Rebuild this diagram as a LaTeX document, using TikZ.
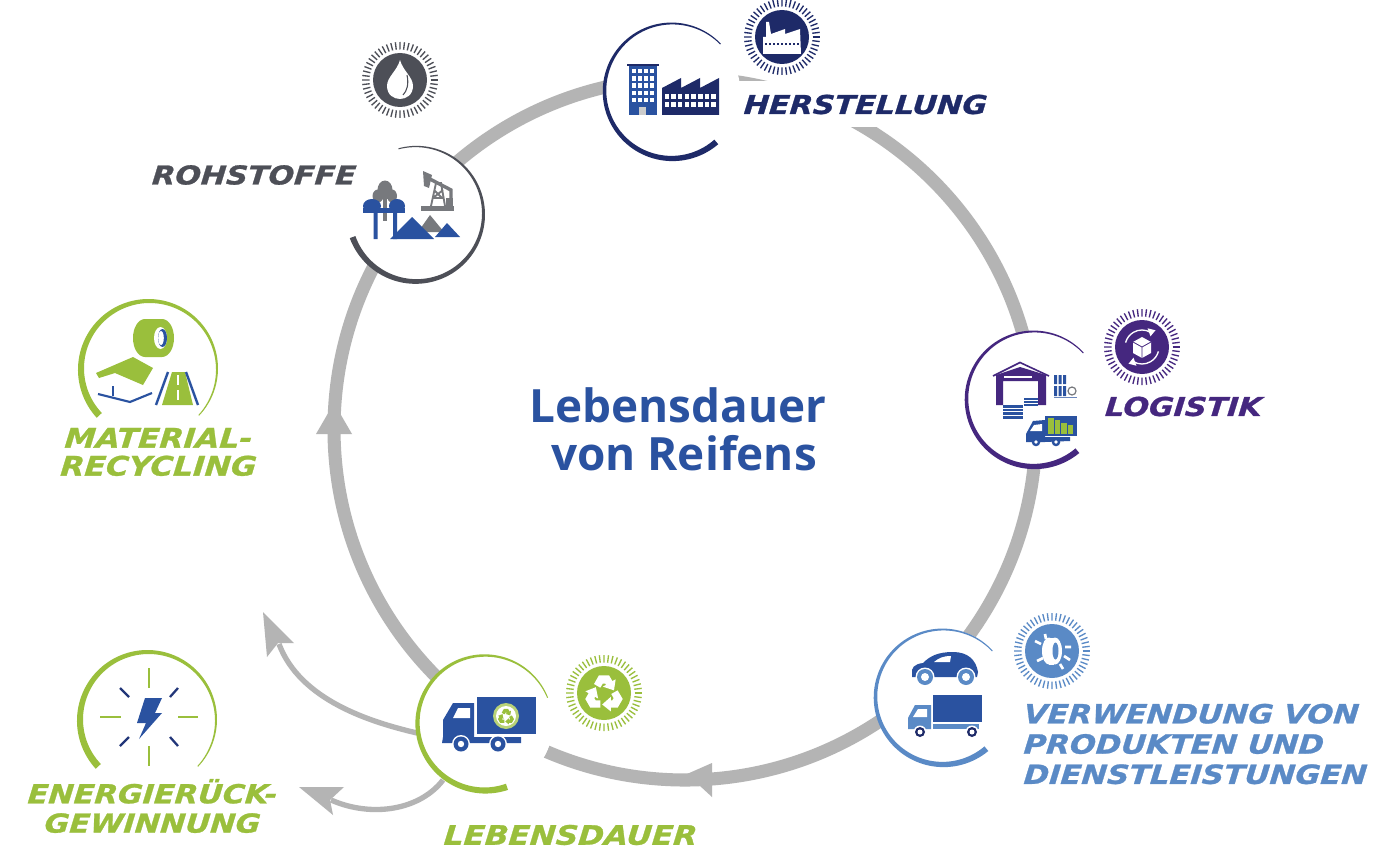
\documentclass[tikz,border=0pt]{standalone}
\usepackage{fontspec}
\usetikzlibrary{shapes.geometric}
\newfontfamily\labf[FakeStretch=1.16,FakeBold=1,FakeSlant=0.08]{DejaVu Sans}
\newfontfamily\titlef{Open Sans}
\definecolor{ringg}{HTML}{B4B4B4}
\definecolor{cgreen}{HTML}{9ABF3C}
\definecolor{cgray}{HTML}{4D4F57}
\definecolor{cicon}{HTML}{77797D}
\definecolor{cnavy}{HTML}{1E2A68}
\definecolor{cpurple}{HTML}{45277F}
\definecolor{cmid}{HTML}{5A8AC6}
\definecolor{cdeep}{HTML}{2A52A0}
\tikzset{
  disc/.style={circle,fill=white,draw=none,inner sep=0pt,minimum size=102pt},
  lab/.style={inner sep=0pt,font=\labf\bfseries\itshape\fontsize{19.5pt}{22.5pt}\selectfont},
  branch/.style={draw=ringg,line width=4pt},
  headfill/.style={fill=ringg,draw=none},
}
% tapered arc: cx cy r t1 t2 w1 w2 colour
\newcommand{\taper}[8]{%
  \fill[#8] plot[domain=#4:#5,samples=90] ({#1+(#3+(#6+(#7-#6)*(\x-(#4))/((#5)-(#4)))/2)*cos(\x)},{#2+(#3+(#6+(#7-#6)*(\x-(#4))/((#5)-(#4)))/2)*sin(\x)})
   -- plot[domain=#5:#4,samples=90] ({#1+(#3-(#6+(#7-#6)*(\x-(#4))/((#5)-(#4)))/2)*cos(\x)},{#2+(#3-(#6+(#7-#6)*(\x-(#4))/((#5)-(#4)))/2)*sin(\x)}) -- cycle;}
\newcommand{\sunbadge}[4]{%
  \coordinate (#1) at (#2,#3);
  \fill[#4] (#1) circle (27);
  \foreach \a in {0,6.92,...,353}
    \draw[#4,line width=1pt] ({#2+30.5*cos(\a)},{#3+30.5*sin(\a)}) -- ({#2+38*cos(\a)},{#3+38*sin(\a)});}
\newcommand{\recyc}[2]{%
  \foreach \r in {0,120,240}
   \fill[#2,rotate=\r,scale=#1] (-9.5,-9.5) -- (-4.8,-17.8) -- (4.8,-17.8) -- (8,-12.3) -- (11.1,-14) -- (9.5,-3.5) -- (-1,-7) -- (2,-8.8) -- (1.2,-9.9) -- (-1.2,-9.9) -- (-3.5,-6) -- cycle;}
\begin{document}
\begin{tikzpicture}[x=0.75pt,y=-0.75pt,line join=miter]
\useasboundingbox (0,0) rectangle (1386,856);
\fill[white] (0,0) rectangle (1386,856);
% main ring
\coordinate (hub) at (685,429);
\draw[ringg,line width=9.8pt] (hub) circle (351);
\fill[white] (737,81) rectangle (995,127);
% named discs
\node[disc] (roh) at (416,214) {};
\node[disc] (her) at (672,91) {};
\node[disc] (log) at (1034,399) {};
\node[disc] (ver) at (943,697) {};
\node[disc] (leb) at (485,723) {};
\coordinate (mat) at (149,369);
\coordinate (ene) at (148,720);
% branches
\coordinate (tipA) at (263,612);
\coordinate (backA) at (279,644);
\coordinate (tipB) at (299,787);
\coordinate (backB) at (331,800);
\draw[branch] (leb.center) ++(-68,10) .. controls (370,722) and (300,700) .. (backA);
\draw[branch] (leb.center) ++(-42,57) .. controls (420,810) and (372,818) .. (backB);
\fill[headfill] (tipA) -- (294,643) -- (278,643) -- (267,657) -- cycle;
\fill[headfill] (tipB) -- (344,787) -- (330,800) -- (333,815) -- cycle;
\fill[headfill] (687,774) -- (712,763) -- (712,797) -- cycle;
\fill[headfill] (334,403) -- (352,434) -- (316,434) -- cycle;
\node[disc] at (leb) {};
% arcs
\taper{416}{214}{67.5}{-105}{160}{1}{6}{cgray}
\taper{672}{91}{67.5}{-44}{-311}{1}{6}{cnavy}
\taper{1034}{399}{67.5}{-43}{-310}{1}{6}{cpurple}
\taper{943}{697}{67.5}{-43}{-310}{1}{6}{cmid}
\taper{485}{723}{67.5}{-22}{-289}{1}{6.5}{cgreen}
\taper{149}{369}{68}{43}{-223}{1}{7}{cgreen}
\taper{148}{720}{68}{43}{-223}{1}{7}{cgreen}
% ---- Rohstoffe icon
\fill[cicon] (385,190) ellipse (7.5 and 9.5) (378,196) ellipse (5.5 and 6.5) (392,196) ellipse (5 and 6.5);
\fill[cicon] (383,198) rectangle (387,221);
\fill[cicon] (430,215) -- (444,232) -- (418,232) -- cycle;
\fill[cdeep] (372,206) ellipse (9 and 7) (397,206) ellipse (8 and 7);
\fill[cdeep] (363,208) rectangle (405,213);
\fill[cdeep] (373.5,210) rectangle (377.5,239) (393,210) rectangle (397,239);
\fill[cdeep] (412,217) -- (434,239) -- (390,239) -- cycle;
\fill[cdeep] (447,223) -- (460,237) -- (435,237) -- cycle;
\fill[cicon] (421,206) rectangle (454,211);
\draw[cicon,line width=1.4pt] (431,206) -- (436,183) -- (441,183) -- (445,206) (433,198) -- (443,198) (434,190) -- (442,198) (443,190) -- (433,198);
\draw[cicon,line width=2.6pt] (426,177) -- (451,190) -- (451,198);
\fill[cicon] (423,171) -- (432,175) -- (429,188) -- (424,186) -- cycle;
\fill[cicon] (446,198) rectangle (453,206);
\sunbadge{bRoh}{400}{80}{cgray}
\begin{scope}[shift={(400,80)}]
 \fill[white] (0,-20) .. controls (3,-9) and (13,-3) .. (13,6) .. controls (13,15) and (6,19) .. (0,19) .. controls (-6,19) and (-13,15) .. (-13,6) .. controls (-13,-3) and (-3,-9) .. (0,-20) -- cycle;
 \draw[cgray,line width=.8pt] (7,-5) .. controls (9,4) and (7,11) .. (3,15);
\end{scope}
% ---- Herstellung icon
\fill[cdeep] (629,66) rectangle (657,115);
\fill[cnavy] (627,64.5) rectangle (659,66.5);
\foreach \i in {0,1,2,3}
 \foreach \j in {0,1,2,3,4}
  \fill[white] ({631.5+\i*6.2},{69+\j*7.2}) rectangle ({635.5+\i*6.2},{73.5+\j*7.2});
\fill[white!80!black] (639,107) rectangle (646,115);
\fill[cnavy] (662,115) -- (662,88) -- (681,78) -- (681,88) -- (700,78) -- (700,88) -- (719,78) -- (719,115) -- cycle;
\foreach \i in {0,...,7}
 \foreach \j in {0,1}
  \fill[white] ({664.5+\i*6.7},{94+\j*8}) rectangle ({669+\i*6.7},{99.5+\j*8});
\sunbadge{bHer}{782}{37}{cnavy}
\begin{scope}[shift={(782,37)}]
 \fill[white] (-19,17) -- (-19,0) -- (-16,0) -- (-16,-15) -- (-13,-15) -- (-11,-3) -- (3,-8) -- (3,-3) -- (18,-8) -- (19,17) -- cycle;
 \foreach \i in {-16,-12,...,16} \fill[cnavy] (\i-1,6) rectangle (\i+1,8);
\end{scope}
% ---- Logistik icon
\fill[cpurple] (996,375) -- (1020,367) -- (1046,375) -- (1046,405) -- (1038,405) -- (1038,381) -- (1003,381) -- (1003,405) -- (996,405) -- cycle;
\draw[cpurple,line width=1.2pt] (993,376) -- (1020,362.5) -- (1049,376);
\fill[white] (1004,375.5) rectangle (1032,378);
\foreach \j in {0,1,2,3} \fill[cdeep] (1003,{405+\j*3.6}) rectangle (1023,{407.8+\j*3.6});
\foreach \j in {0,1,2} \fill[cdeep] (1024,{398+\j*2.9}) rectangle (1038,{400.2+\j*2.9});
\foreach \i in {0,1,2} \fill[cdeep] ({1054+\i*4.6},375) rectangle ({1057+\i*4.6},384) ({1054+\i*4.6},386) rectangle ({1057+\i*4.6},396);
\draw[cdeep!70,line width=.6pt] (1054,397.5) -- (1077,397.5);
\draw[cicon,line width=.9pt] (1072,391) circle (4);
\fill[cdeep] (1045,416) rectangle (1077,436);
\fill[cdeep] (1026,442) -- (1026,434) -- (1033,421) -- (1045,420) -- (1045,437) -- (1070,437) -- (1070,441) -- (1045,442) -- cycle;
\fill[white] (1034,425) -- (1042,424) -- (1042,431) -- (1030,431) -- cycle;
\foreach \i/\h in {0/17,1/15,2/12,3/10} \fill[cgreen] ({1048+\i*6.6},{435-\h}) rectangle ({1053.5+\i*6.6},434);
\foreach \x in {1036,1056} {\fill[cdeep] (\x,442) circle (4.3); \fill[white] (\x,442) circle (1.9);}
\sunbadge{bLog}{1142}{347}{cpurple}
\begin{scope}[shift={(1142,347)}]
 \draw[white,line width=1pt] (-60:17) arc[start angle=-60,end angle=-165,radius=17] (120:17) arc[start angle=120,end angle=15,radius=17];
 \fill[white] (-60:17) ++(-3,-4) -- ++(8,2) -- ++(-5,6) -- cycle (120:17) ++(3,4) -- ++(-8,-2) -- ++(5,-6) -- cycle;
 \fill[white] (0,-10) -- (9,-5) -- (9,6) -- (0,11) -- (-9,6) -- (-9,-5) -- cycle;
 \draw[cpurple,line width=.6pt] (-9,-5) -- (0,0) -- (9,-5) (0,0) -- (0,11);
\end{scope}
% ---- Verwendung icon
\fill[cdeep] (912,674) .. controls (911,668) and (914,664) .. (923,663) .. controls (930,656) and (938,652) .. (953,652) .. controls (968,652) and (976,660) .. (978,672) -- (977,677) -- (912,677) -- cycle;
\fill[white] (934,662) .. controls (939,658) and (943,656) .. (951,656) -- (950,662) -- cycle;
\foreach \x in {925,966} {\fill[white] (\x,677) circle (9.5); \fill[cmid] (\x,677) circle (8); \fill[white] (\x,677) circle (4);}
\fill[cdeep] (933,695) rectangle (982,722);
\fill[cmid] (908,729) -- (908,718) -- (915,705) -- (931,705) -- (931,729) -- cycle;
\fill[white] (913,717) -- (918,709) -- (927,709) -- (927,717) -- cycle;
\fill[cmid] (933,724) rectangle (979,729);
\foreach \x in {920,972} {\fill[white] (\x,732) circle (6.5); \fill[cnavy] (\x,732) circle (5); \fill[white] (\x,732) circle (2.5);}
\sunbadge{bVer}{1052}{651}{cmid}
\begin{scope}[shift={(1052,651)}]
 \fill[white] (-3,0) ellipse (7 and 13.5);
 \fill[white] (-3,-13.5) rectangle (2,13.5);
 \fill[white] (3,0) ellipse (7 and 13.5);
 \fill[cmid] (3.5,0) ellipse (3 and 8.5);
 \draw[white,line width=2pt] (-7,-17) -- (-6,-12) (-17,-10) -- (-11,-7) (-15,10) -- (-9,7) (8,13) -- (11,18) (13,-4) -- (19,-4) (12,5) -- (18,9);
\end{scope}
% ---- Lebensdauer icon
\fill[cdeep] (477,697) rectangle (536,734);
\fill[cdeep] (443,737) -- (443,720) -- (453,703) -- (474,703) -- (474,737) -- (521,737) -- (521,743) -- (442,743) -- cycle;
\fill[white] (453,718) -- (458,708) -- (470,708) -- (470,718) -- cycle;
\foreach \x in {461,498} {\fill[white] (\x,744) circle (9); \fill[cdeep] (\x,744) circle (7.5); \fill[white] (\x,744) circle (3.2);}
\fill[cgreen!70] (506,716) circle (13);
\fill[white] (506,716) circle (10);
\begin{scope}[shift={(506,717)}] \recyc{.45}{cgreen} \end{scope}
\sunbadge{bLeb}{604}{693}{cgreen}
\begin{scope}[shift={(604,694)}] \recyc{1.05}{white} \end{scope}
% ---- Material icon
\fill[cgreen] (145,319) -- (162,319) .. controls (169,319) and (174,328) .. (174,338) .. controls (174,348) and (169,357) .. (162,357) -- (145,357) .. controls (138,357) and (133,348) .. (133,338) .. controls (133,328) and (138,319) .. (145,319) -- cycle;
\fill[white] (160.5,338) ellipse (6.5 and 11);
\fill[cdeep] (162.5,338) ellipse (4.5 and 9);
\fill[white] (161,338) ellipse (2.8 and 7);
\fill[cgreen] (96,373) -- (133,357) -- (153,368) -- (143,385) -- (115,373) -- (99,378) -- cycle;
\draw[cdeep,line width=1.6pt] (98,394) -- (130,402) -- (152,393);
\draw[cdeep,line width=2pt] (113,396) -- (113,386);
\fill[cgreen] (162,405) -- (172,372) -- (185,372) -- (193,405) -- cycle;
\draw[cdeep,line width=1.8pt] (156,405) -- (168,372) (198,405) -- (186,372);
\draw[white,line width=2pt] (178,375) -- (178,385) (178,390) -- (178,400);
% ---- Energie icon
\draw[cgreen,line width=1.7pt] (149,668) -- (149,688) (149,746) -- (149,766) (100,717) -- (121,717) (178,717) -- (198,717);
\draw[cnavy!70!cdeep,line width=1.7pt] (120,688) -- (129,697) (178,688) -- (170,697) (120,746) -- (129,737) (178,746) -- (170,737);
\fill[cdeep] (145,698) -- (162,698) -- (155,713) -- (162,713) -- (139,739) -- (146,723) -- (137,723) -- cycle;
% ---- labels
\node[lab,text=cgray] (tRoh) at (253.5,175) {ROHSTOFFE};
\node[lab,text=cnavy] (tHer) at (865,104.5) {HERSTELLUNG};
\node[lab,text=cpurple] (tLog) at (1183,406.5) {LOGISTIK};
\node[lab,text=cmid,align=left,anchor=north west,font=\labf\bfseries\itshape\fontsize{19.8pt}{22.7pt}\selectfont] (tVer) at (1023,703.5) {VERWENDUNG VON\\PRODUKTEN UND\\DIENSTLEISTUNGEN};
\node[lab,text=cgreen,align=center,font=\labf\bfseries\itshape\fontsize{20.2pt}{21pt}\selectfont] (tMat) at (158,452) {MATERIAL-\\RECYCLING};
\node[lab,text=cgreen,align=center,font=\labf\bfseries\itshape\fontsize{19.6pt}{22pt}\selectfont] (tEne) at (152,806) {ENERGIERÜCK-\\GEWINNUNG};
\node[lab,text=cgreen,font=\labf\bfseries\itshape\fontsize{20.1pt}{22pt}\selectfont] (tLeb) at (570,835) {LEBENSDAUER};
\node[inner sep=0pt,text=cdeep,align=center,font=\titlef\bfseries\fontsize{34.4pt}{36pt}\selectfont] (tC) at (678,429) {Lebensdauer\\\hspace*{9pt}von Reifens};
\end{tikzpicture}
\end{document}
